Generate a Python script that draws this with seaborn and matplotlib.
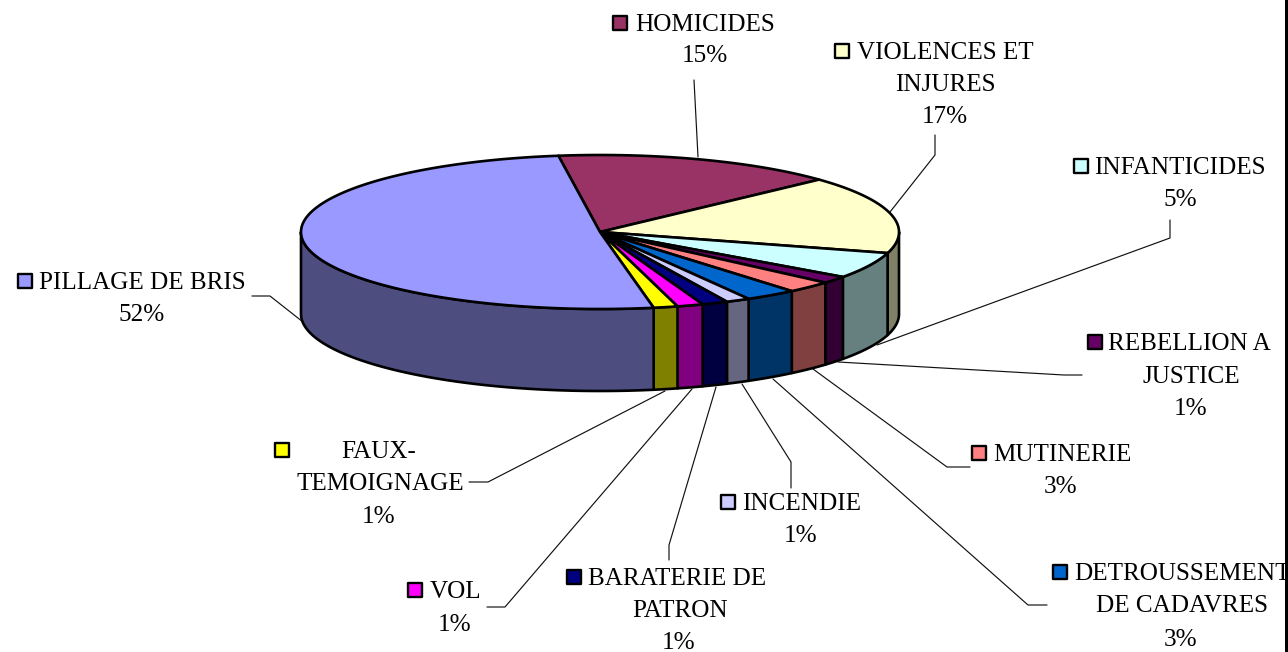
import matplotlib
matplotlib.use("Agg")
import matplotlib.pyplot as plt
import matplotlib.colors as mcolors
import numpy as np
import seaborn as sns

# shares, labels as printed on the chart
categories = ["HOMICIDES", "VIOLENCES ET INJURES", "INFANTICIDES", "REBELLION A JUSTICE",
              "MUTINERIE", "DETROUSSEMENT DE CADAVRES", "INCENDIE", "BARATERIE DE PATRON",
              "VOL", "FAUX-TEMOIGNAGE", "PILLAGE DE BRIS"]
values = [15.3, 16.3, 5.5, 1.5, 2.5, 2.8, 1.3, 1.4, 1.4, 1.3, 50.6]
pct_labels = ["15%", "17%", "5%", "1%", "3%", "3%", "1%", "1%", "1%", "1%", "52%"]
colors = ["#993366", "#FFFFCC", "#CCFFFF", "#660066", "#FF8080", "#0066CC",
          "#CCCCFF", "#000080", "#FF00FF", "#FFFF00", "#9999FF"]

START_ANGLE = 98
CX, CY, RX, RY, DEPTH = 600, 232, 299, 77, 82

# name -> marker (x, y), then text lines as (text, x, y, ha); None stands for the percent label
label_layout = {
    "HOMICIDES": ((620, 23), [("HOMICIDES", 635, 23, "left"), (None, 705, 54, "center")]),
    "VIOLENCES ET INJURES": ((842, 51), [("VIOLENCES ET", 857, 51, "left"), ("INJURES", 945, 83, "center"), (None, 945, 115, "center")]),
    "INFANTICIDES": ((1081, 166), [("INFANTICIDES", 1094, 166, "left"), (None, 1180, 198, "center")]),
    "REBELLION A JUSTICE": ((1095, 342), [("REBELLION A", 1108, 342, "left"), ("JUSTICE", 1191, 375, "center"), (None, 1191, 407, "center")]),
    "MUTINERIE": ((979, 453), [("MUTINERIE", 993, 453, "left"), (None, 1061, 485, "center")]),
    "DETROUSSEMENT DE CADAVRES": ((1060, 572), [("DETROUSSEMENT", 1074, 572, "left"), ("DE CADAVRES", 1182, 604, "center"), (None, 1181, 638, "center")]),
    "INCENDIE": ((728, 502), [("INCENDIE", 742, 502, "left"), (None, 801, 534, "center")]),
    "BARATERIE DE PATRON": ((574, 577), [("BARATERIE DE", 588, 577, "left"), ("PATRON", 680, 609, "center"), (None, 679, 641, "center")]),
    "VOL": ((415, 590), [("VOL", 430, 590, "left"), (None, 455, 623, "center")]),
    "FAUX-TEMOIGNAGE": ((282, 450), [("FAUX-", 379, 450, "center"), ("TEMOIGNAGE", 380, 482, "center"), (None, 379, 515, "center")]),
    "PILLAGE DE BRIS": ((25, 281), [("PILLAGE DE BRIS", 39, 281, "left"), (None, 142, 313, "center")]),
}

leaders = [
    [(694, 80), (698, 157)],
    [(935, 135), (935, 155), (890, 212)],
    [(1170, 220), (1170, 238), (877, 345)],
    [(1082, 375), (1064, 375), (838, 362)],
    [(970, 467), (947, 467), (813, 369)],
    [(1047, 605), (1028, 605), (773, 379)],
    [(791, 488), (791, 462), (742, 384)],
    [(669, 560), (669, 545), (716, 387)],
    [(487, 607), (505, 607), (692, 389)],
    [(469, 482), (488, 482), (665, 391)],
    [(252, 296), (270, 296), (303, 322)],
]


def ellipse_arc(a0, a1, dy=0):
    t = np.radians(np.linspace(a0, a1, max(int(abs(a1 - a0)) * 2, 2) + 1))
    return CX + RX * np.cos(t), CY + dy - RY * np.sin(t)


sns.set_theme(style="white")
plt.rcParams["font.family"] = ["Liberation Serif", "DejaVu Serif"]
palette = sns.color_palette(colors)

fig = plt.figure(figsize=(12.88, 6.52), dpi=100)
ax = fig.add_axes([0, 0, 1, 1])
ax.set_xlim(0, 1288)
ax.set_ylim(652, 0)
ax.axis("off")

# slices run clockwise from the start angle
edges = START_ANGLE - np.cumsum([0] + values) / sum(values) * 360
LW = 1.9

for i, col in enumerate(palette):
    a0, a1 = edges[i], edges[i + 1]
    # outer wall, only the part facing the viewer (angles -180..0)
    for shift in (0, -360):
        w0 = min(a0 + shift, 0)
        w1 = max(a1 + shift, -180)
        if w0 > w1:
            x_top, y_top = ellipse_arc(w0, w1)
            x_bot, y_bot = ellipse_arc(w1, w0, DEPTH)
            dark = tuple(c * 0.5 for c in mcolors.to_rgb(col))
            ax.fill(np.r_[x_top, x_bot], np.r_[y_top, y_bot], facecolor=dark,
                    edgecolor="black", lw=LW, joinstyle="round", zorder=2)
    # top face
    x_arc, y_arc = ellipse_arc(a0, a1)
    ax.fill(np.r_[CX, x_arc], np.r_[CY, y_arc], facecolor=col,
            edgecolor="black", lw=LW, joinstyle="round", zorder=3)

for pts in leaders:
    xs, ys = zip(*pts)
    ax.plot(xs, ys, color="#111111", lw=0.85, zorder=1)

for i, name in enumerate(categories):
    (mx, my), lines = label_layout[name]
    ax.scatter([mx], [my], marker="s", s=100, color=palette[i],
               edgecolor="black", linewidth=1.7, zorder=4)
    for text, tx, ty, ha in lines:
        ax.text(tx, ty + 8, pct_labels[i] if text is None else text, ha=ha,
                va="baseline", fontsize=18.1, color="black", zorder=4)

# chart frame edge shows as a black strip on the right
ax.axvspan(1285, 1288, color="black", lw=0, zorder=5)

fig.savefig("out.png", dpi=100, facecolor="white")
